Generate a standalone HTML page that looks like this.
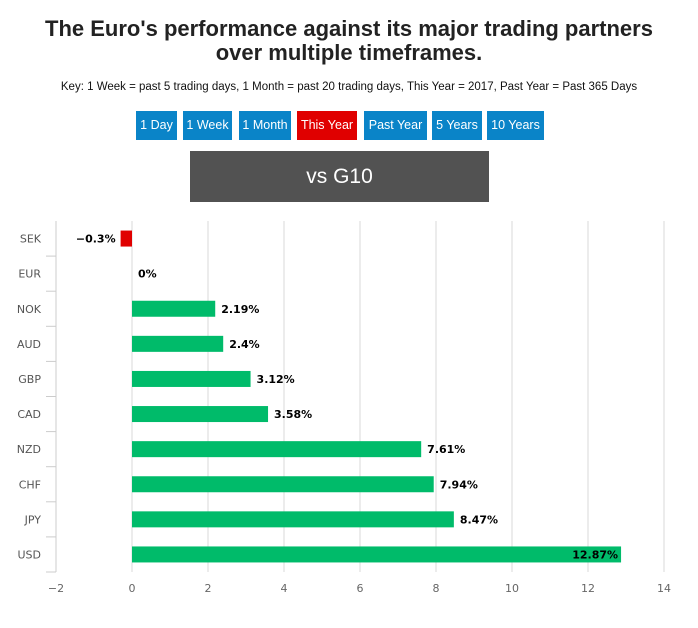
<!DOCTYPE html>
<html><head><meta charset="utf-8"><style>
body{margin:0;width:698px;height:628px;background:#fff;font-family:"Liberation Sans",sans-serif;position:relative;overflow:hidden}
.t{position:absolute;left:0;width:698px;text-align:center;color:#222;font-weight:bold;font-size:22px;line-height:24px}
.key{position:absolute;top:81px;left:0;width:698px;text-align:center;font-size:11.5px;color:#111}
.btn{position:absolute;top:111px;height:29px;background:#0a84c8;color:#fff;font-size:12.5px;line-height:29px;text-align:center}
.box{position:absolute;left:190px;top:151px;width:299px;height:51px;background:#525252;color:#fff;font-size:21px;line-height:51px;text-align:center}
</style></head><body>
<div class="t" style="top:17px">The Euro's performance against its major trading partners<br>over multiple timeframes.</div>
<div class="key">Key: 1 Week = past 5 trading days, 1 Month = past 20 trading days, This Year = 2017, Past Year = Past 365 Days</div>
<div class="btn" style="left:136px;width:41px">1 Day</div>
<div class="btn" style="left:183px;width:49px">1 Week</div>
<div class="btn" style="left:239px;width:52px">1 Month</div>
<div class="btn" style="left:297px;width:60px;background:#e00000">This Year</div>
<div class="btn" style="left:364px;width:63px">Past Year</div>
<div class="btn" style="left:432px;width:50px">5 Years</div>
<div class="btn" style="left:487px;width:57px">10 Years</div>
<div class="box">vs G10</div>
<svg id="c" width="698" height="628" style="position:absolute;left:0;top:0"></svg>
<script>
const categories=["SEK","EUR","NOK","AUD","GBP","CAD","NZD","CHF","JPY","USD"];
const values=[-0.3,0,2.19,2.4,3.12,3.58,7.61,7.94,8.47,12.87];
const labels=["−0.3%","0%","2.19%","2.4%","3.12%","3.58%","7.61%","7.94%","8.47%","12.87%"];
const ticks=[-2,0,2,4,6,8,10,12,14];
const svg=document.getElementById('c');const NS="http://www.w3.org/2000/svg";
const x0=132,unit=38,plotTop=221,plotBot=572,band=(plotBot-plotTop)/categories.length;
const X=v=>x0+v*unit;
function el(t,a,txt){const e=document.createElementNS(NS,t);for(const k in a)e.setAttribute(k,a[k]);if(txt!=null)e.textContent=txt;svg.appendChild(e);return e;}
ticks.forEach(t=>{
 if(t>-2){const g=el('line',{x1:X(t),x2:X(t),y1:plotTop,y2:plotBot,stroke:'#d8d8d8'});
 
 }
 const l=el('text',{x:X(t),y:592,'text-anchor':'middle','font-size':11,fill:'#666','font-family':'DejaVu Sans, sans-serif'},t<0?'−'+(-t):t);
 
 
});
const ax=el('line',{x1:56,x2:56,y1:plotTop,y2:plotBot,stroke:'#ccc'});


categories.forEach((c,i)=>{
 const cy=plotTop+band*(i+0.5);
 const tk=el('line',{x1:46,x2:56,y1:plotTop+band*(i+1),y2:plotTop+band*(i+1),stroke:'#ccc'});
 
 
 const lb=el('text',{x:41,y:cy+4,'text-anchor':'end','font-size':11,fill:'#555','font-family':'DejaVu Sans, sans-serif'},c);
 
 
 const v=values[i];const xa=Math.min(X(0),X(v)),w=Math.abs(X(v)-X(0));
 if(w>0){const b=el('rect',{x:xa,y:cy-8,width:w,height:16,fill:v<0?'#e00000':'#00bb6a'});
 
 }
 let tx,anchor;
 if(v<0){tx=X(v)-5;anchor='end';}else if(X(v)>600){tx=X(v)-3;anchor='end';}else{tx=X(v)+6;anchor='start';}
 const vl=el('text',{x:tx,y:cy+4,'text-anchor':anchor,'font-size':11,'font-weight':'bold',fill:'#000','font-family':'DejaVu Sans, sans-serif'},labels[i]);
 
 
});
</script>
</body></html>
